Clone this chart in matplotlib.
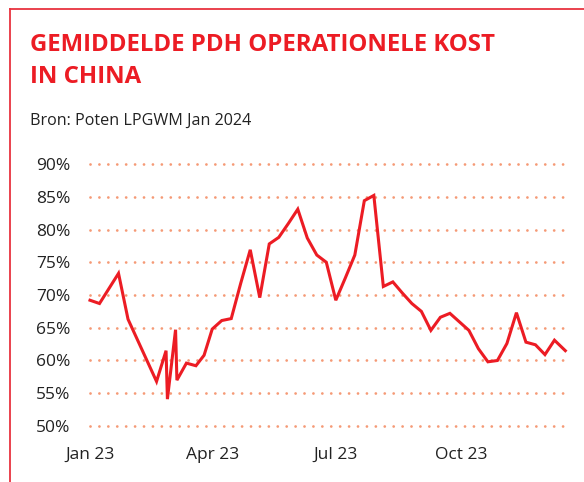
import matplotlib
matplotlib.use("Agg")
import matplotlib.pyplot as plt
import pandas as pd
from matplotlib.lines import Line2D

# days since 1 Jan 2023 and cost (%)
days = [0, 7, 21, 28, 49, 56, 57, 63, 64, 71, 78, 84, 90, 97, 104, 111, 118, 125,
        132, 139, 146, 153, 160, 167, 174, 181, 188, 195, 202, 209, 216, 223, 230,
        237, 244, 251, 258, 265, 272, 279, 286, 293, 300, 307, 314, 321, 328, 335,
        342, 350]
cost = [69.2, 68.7, 73.3, 66.3, 56.8, 61.5, 54.1, 64.7, 57.0, 59.6, 59.2, 60.8,
        64.8, 66.1, 66.4, 71.8, 76.9, 69.6, 77.8, 78.8, 80.9, 83.1, 78.7, 76.1,
        75.0, 69.2, 72.6, 76.1, 84.4, 85.2, 71.3, 72.0, 70.3, 68.7, 67.5, 64.6,
        66.6, 67.2, 65.9, 64.6, 61.8, 59.8, 60.0, 62.6, 67.3, 62.8, 62.4, 60.9,
        63.1, 61.5]
y_ticks = [50, 55, 60, 65, 70, 75, 80, 85, 90]
x_ticks = ["2023-01-01", "2023-04-01", "2023-07-01", "2023-10-01"]
x_labels = ["Jan 23", "Apr 23", "Jul 23", "Oct 23"]

start = pd.Timestamp("2023-01-01")
dates = start + pd.to_timedelta(days, unit="D")

red = "#ec1c24"
W, H = 584, 482
fig = plt.figure(figsize=(W / 100, H / 100), dpi=100)
plt.rcParams["font.family"] = ["Open Sans", "DejaVu Sans"]

ax = fig.add_axes([90 / W, 56 / H, (566 - 90) / W, (426 - 164) / H])
ax.plot(dates, cost, c=red, lw=2.2, clip_on=False, solid_joinstyle="miter")
ax.set_ylim(50, 90)
ax.set_xlim(start, start + pd.Timedelta(days=350.5))

ax.set_yticks(y_ticks)
ax.set_yticklabels([f"{v}%" for v in y_ticks], fontsize=12.5, color="#222222")
ax.set_xticks(pd.to_datetime(x_ticks))
ax.set_xticklabels(x_labels, fontsize=12.5, color="#222222")
ax.tick_params(length=0)
ax.tick_params(axis="y", pad=14)
ax.tick_params(axis="x", pad=15)
for s in ax.spines.values():
    s.set_visible(False)
ax.grid(axis="y", color="#f59a76", lw=2.0, linestyle=(0, (0.01, 3.2)),
        dash_capstyle="round")
for gl in ax.get_ygridlines():
    gl.set_clip_on(False)
ax.set_axisbelow(True)

fig.text(30 / W, 1 - 83 / H, "GEMIDDELDE PDH OPERATIONELE KOST\nIN CHINA",
         color=red, fontsize=17.3, fontweight="bold", va="baseline",
         linespacing=1.45)
fig.text(30 / W, 1 - 125 / H, "Bron: Poten LPGWM Jan 2024", color="#222222",
         fontsize=11.6, va="baseline")

# red frame on the top and left edge
fig.add_artist(Line2D([9.5 / W, 9.5 / W], [0, 1 - 9 / H], color="#e8333f", lw=1.3))
fig.add_artist(Line2D([9.5 / W, 1], [1 - 9 / H, 1 - 9 / H], color="#e8333f", lw=1.3))

fig.savefig("out.png", dpi=100)
